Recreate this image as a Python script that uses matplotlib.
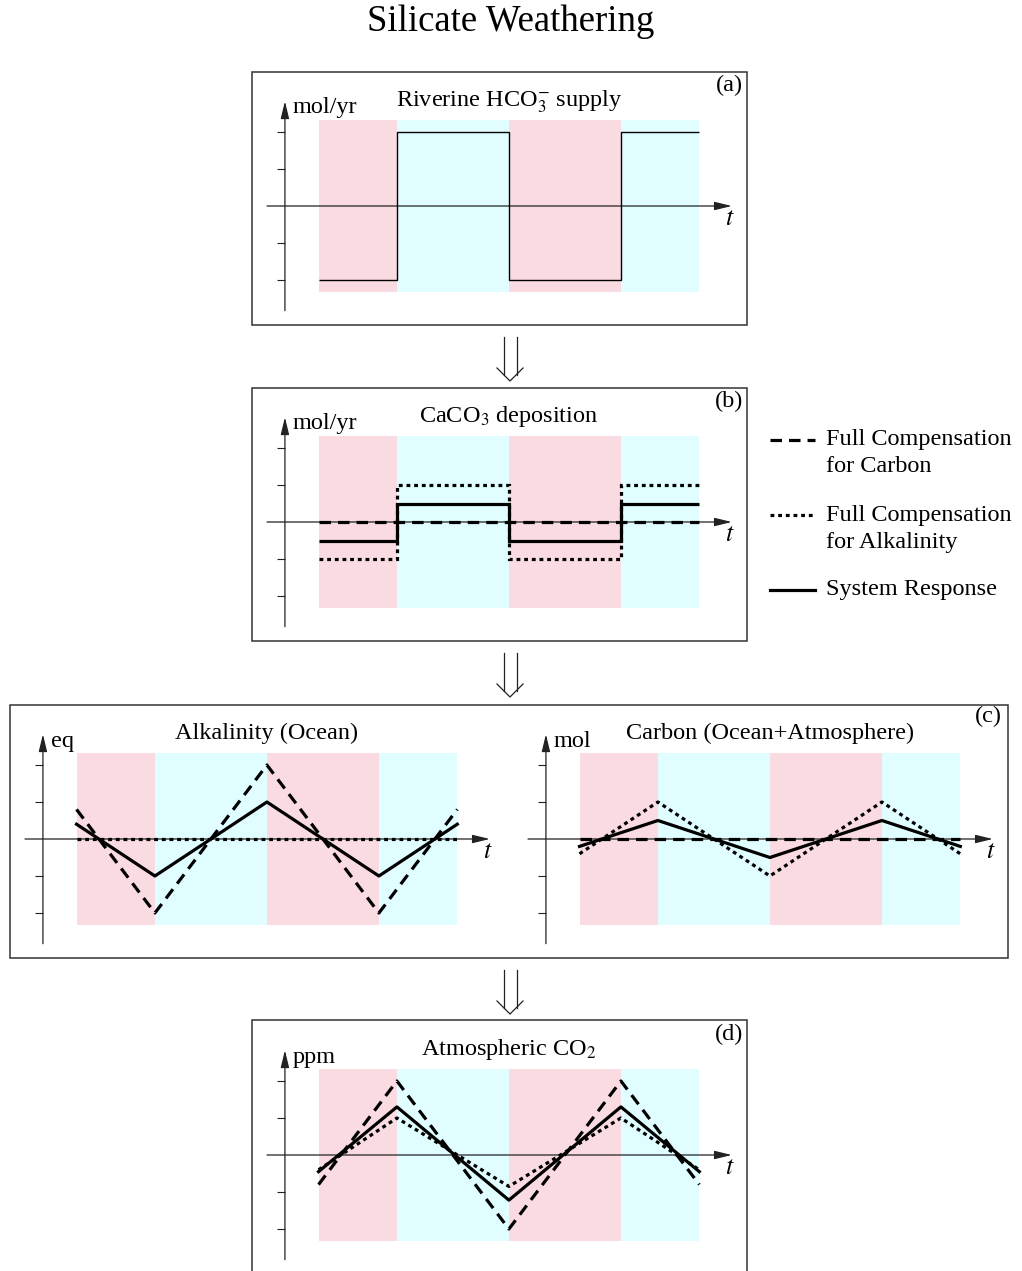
import matplotlib
matplotlib.use("Agg")
from matplotlib import pyplot as plt
from matplotlib.lines import Line2D
from matplotlib.patches import Rectangle

plt.rcParams['font.family'] = ['Liberation Serif', 'DejaVu Serif']
plt.rcParams['mathtext.fontset'] = 'stix'

W, H = 1022, 1271

# time axis: one unit = half a forcing period
edges = [-0.7, 0, 1, 2, 2.7]
phase_colors = ['#f9dbe1', '#e0feff', '#f9dbe1', '#e0feff']
t_pts = [-0.7, 0, 1, 2, 2.7]
band = 2.32

# (a) riverine HCO3- supply, one value per phase
supply = [-2, 2, -2, 2]

# (b) CaCO3 deposition, one value per phase
dep_carbon = [0, 0, 0, 0]
dep_alk = [-1, 1, -1, 1]
dep_sys = [-0.5, 0.5, -0.5, 0.5]

# (c) alkalinity and carbon inventories at t_pts
alk_carbon = [0.8, -2, 2, -2, 0.8]
alk_alk = [0, 0, 0, 0, 0]
alk_sys = [0.4, -1, 1, -1, 0.4]
car_carbon = [0, 0, 0, 0, 0]
car_alk = [-0.4, 1, -1, 1, -0.4]
car_sys = [-0.2, 0.5, -0.5, 0.5, -0.2]

# (d) atmospheric CO2 at t_pts
co2_carbon = [-0.8, 2, -2, 2, -0.8]
co2_alk = [-0.4, 1.0, -0.85, 1.0, -0.4]
co2_sys = [-0.45, 1.3, -1.22, 1.3, -0.45]

yticks = [-2, -1, 1, 2]
FS = 17.5
LW = 2.3
DASH = (0, (3.6, 2.2))
DOT = (0, (1.2, 1.2))

fig = plt.figure(figsize=(W / 100, H / 100), dpi=100)


def fx(x):
    return x / W


def fy(y):
    return 1 - y / H


def make_axes(left, zero_y, unit, label=None, tag=None):
    xlim = (-1.16, 2.99)
    ylim = (-2.83, 2.83)
    w = (xlim[1] - xlim[0]) * 112
    h = (ylim[1] - ylim[0]) * 37
    top = zero_y - ylim[1] * 37
    ax = fig.add_axes([fx(left), fy(top + h), w / W, h / H])
    ax.set_xlim(xlim)
    ax.set_ylim(ylim)
    ax.patch.set_visible(False)
    for s in ['top', 'right', 'bottom']:
        ax.spines[s].set_visible(False)
    ax.spines['left'].set_position(('data', -1))
    ax.spines['left'].set_visible(False)
    ax.set_xticks([])
    ax.set_yticks(yticks)
    ax.tick_params(axis='y', direction='out', length=6, width=0.8,
                   color='#222222', labelleft=False)
    for i in range(len(phase_colors)):
        ax.axvspan(edges[i], edges[i + 1], ymin=(-band - ylim[0]) / (ylim[1] - ylim[0]),
                   ymax=(band - ylim[0]) / (ylim[1] - ylim[0]),
                   color=phase_colors[i], lw=0, zorder=0)
    arrow = dict(arrowstyle='-|>,head_length=0.7,head_width=0.17',
                 mutation_scale=15, lw=0.9, color='#222222', shrinkA=0, shrinkB=0)
    ax.annotate('', xy=(1, 0), xytext=(0, 0), xycoords=ax.get_yaxis_transform(),
                textcoords=ax.get_yaxis_transform(), arrowprops=arrow, zorder=1)
    ax.annotate('', xy=(-1, 1), xytext=(-1, 0), xycoords=ax.get_xaxis_transform(),
                textcoords=ax.get_xaxis_transform(), arrowprops=arrow, zorder=1)
    ax.text(2.97, -0.35, '$t$', fontsize=FS + 1, ha='center', va='center')
    ax.text(-0.93, 2.5, unit, fontsize=FS, ha='left', va='baseline')
    if label:
        ax.text(1.0, 2.7, label, fontsize=FS, ha='center', va='baseline')
    if tag:
        ax.text(3.09, 3.27, tag, fontsize=FS, ha='right', va='center', clip_on=False)
    return ax


def frame(x0, y0, x1, y1):
    fig.add_artist(Rectangle((fx(x0), fy(y1)), fx(x1 - x0), (y1 - y0) / H,
                             transform=fig.transFigure, fill=False,
                             lw=1.1, edgecolor='#333333'))


def down_arrow(yt, yb):
    c = 510
    kw = dict(color='#222222', lw=0.9, transform=fig.transFigure)
    fig.add_artist(Line2D([fx(c - 6.5)] * 2, [fy(yt), fy(yb - 6)], **kw))
    fig.add_artist(Line2D([fx(c + 6.5)] * 2, [fy(yt), fy(yb - 6)], **kw))
    fig.add_artist(Line2D([fx(c - 13), fx(c), fx(c + 13)],
                          [fy(yb - 13), fy(yb), fy(yb - 13)], **kw))


fig.text(0.5, fy(22), 'Silicate Weathering', fontsize=26.5, ha='center', va='center')

# (a)
frame(252, 72, 747, 325)
ax = make_axes(267, 206, 'mol/yr', 'Riverine HCO$_3^{-}$ supply', '(a)')
ax.stairs(supply, edges, baseline=None, color='k', lw=1.0)
down_arrow(337, 381)

# (b)
frame(252, 388, 747, 641)
ax = make_axes(267, 522, 'mol/yr', 'CaCO$_3$ deposition', '(b)')
ax.stairs(dep_carbon, edges, baseline=None, color='k', lw=LW, linestyle=DASH)
ax.stairs(dep_alk, edges, baseline=None, color='k', lw=LW, linestyle=DOT)
ax.stairs(dep_sys, edges, baseline=None, color='k', lw=LW)
down_arrow(653, 697)

# (c)
frame(10, 705, 1008, 958)
ax = make_axes(25, 839, 'eq', 'Alkalinity (Ocean)')
ax.plot(t_pts, alk_carbon, color='k', lw=LW, linestyle=DASH)
ax.plot(t_pts, alk_alk, color='k', lw=LW, linestyle=DOT)
ax.plot(t_pts, alk_sys, color='k', lw=LW)
ax = make_axes(528, 839, 'mol', 'Carbon (Ocean+Atmosphere)')
ax.text(3.07, 3.3, '(c)', fontsize=FS, ha='right', va='center', clip_on=False)
ax.plot(t_pts, car_carbon, color='k', lw=LW, linestyle=DASH)
ax.plot(t_pts, car_alk, color='k', lw=LW, linestyle=DOT)
ax.plot(t_pts, car_sys, color='k', lw=LW)
down_arrow(970, 1014)

# (d)
frame(252, 1020, 747, 1300)
ax = make_axes(267, 1155, 'ppm', 'Atmospheric CO$_2$', '(d)')
ax.plot(t_pts, co2_carbon, color='k', lw=LW, linestyle=DASH)
ax.plot(t_pts, co2_alk, color='k', lw=LW, linestyle=DOT)
ax.plot(t_pts, co2_sys, color='k', lw=LW)

# legend
legend_items = [
    (DASH, ['Full Compensation', 'for Carbon'], 440),
    (DOT, ['Full Compensation', 'for Alkalinity'], 515),
    ('-', ['System Response'], 590),
]
for ls, lines, y in legend_items:
    fig.add_artist(Line2D([fx(770), fx(815)], [fy(y), fy(y)], color='k', lw=LW,
                          linestyle=ls, transform=fig.transFigure))
    for k, txt in enumerate(lines):
        fig.text(fx(826), fy(y + 27 * k), txt, fontsize=FS, ha='left', va='center')

plt.savefig('out.png', dpi=100)
